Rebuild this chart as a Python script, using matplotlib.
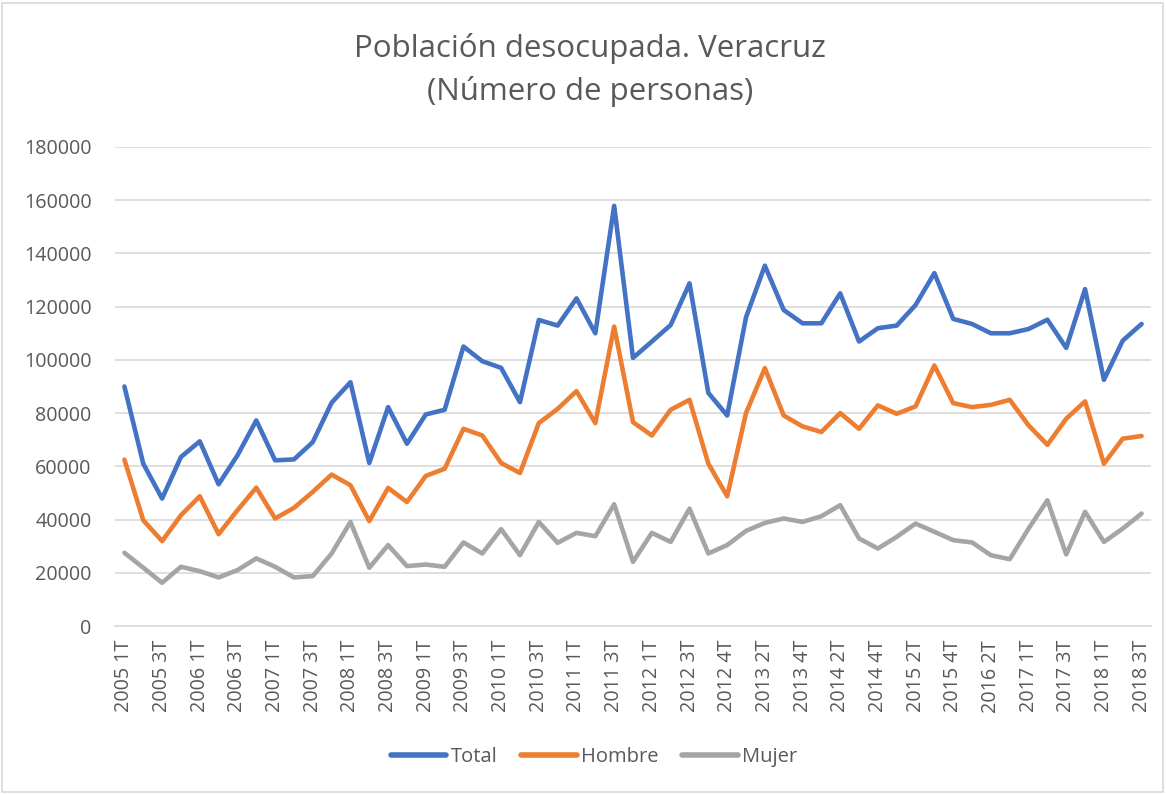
import matplotlib
matplotlib.use("Agg")
import matplotlib.pyplot as plt
from matplotlib.patches import Rectangle

periods = [
    "2005 1T", "2005 2T", "2005 3T", "2005 4T",
    "2006 1T", "2006 2T", "2006 3T", "2006 4T",
    "2007 1T", "2007 2T", "2007 3T", "2007 4T",
    "2008 1T", "2008 2T", "2008 3T", "2008 4T",
    "2009 1T", "2009 2T", "2009 3T", "2009 4T",
    "2010 1T", "2010 2T", "2010 3T", "2010 4T",
    "2011 1T", "2011 2T", "2011 3T", "2011 4T",
    "2012 1T", "2012 2T", "2012 3T", "2012 3T ", "2012 4T",
    "2013 1T", "2013 2T", "2013 3T", "2013 4T",
    "2014 1T", "2014 2T", "2014 3T", "2014 4T",
    "2015 1T", "2015 2T", "2015 3T", "2015 4T",
    "2016 1T", "2016 2T", "2016 3T",
    "2017 1T", "2017 2T", "2017 3T", "2017 4T",
    "2018 1T", "2018 2T", "2018 3T",
]

total = [90000, 61000, 47900, 63500, 69400, 53250, 64100, 77250, 62250, 62600,
         69100, 83900, 91600, 61250, 82250, 68500, 79500, 81250, 105000, 99500,
         97000, 84100, 115000, 112900, 123100, 110000, 157900, 100750, 106900, 113100,
         128750, 87600, 79100, 116000, 135400, 118750, 113750, 113750, 125000, 106900,
         111900, 112900, 120600, 132600, 115400, 113500, 110000, 110000, 111600, 115100,
         104500, 126600, 92500, 107250, 113500]

hombre = [62500, 39750, 31900, 41600, 48750, 34500, 43500, 52000, 40400, 44400,
          50400, 56900, 52900, 39400, 51900, 46600, 56400, 59100, 74100, 71600,
          61250, 57500, 76250, 81600, 88250, 76250, 112500, 76600, 71600, 81250,
          85000, 61000, 48750, 80000, 96900, 79100, 75000, 72900, 80000, 74100,
          82900, 79750, 82500, 97900, 83750, 82250, 83100, 85000, 75400, 68100,
          77900, 84400, 61000, 70400, 71400]

mujer = [27500, 21900, 16250, 22250, 20600, 18250, 21000, 25400, 22250, 18250,
         18750, 27250, 39100, 21900, 30400, 22500, 23100, 22250, 31400, 27250,
         36400, 26600, 39100, 31250, 35000, 33750, 45750, 24100, 35000, 31600,
         44100, 27250, 30400, 35750, 38750, 40400, 39100, 41250, 45400, 32900,
         29100, 33500, 38500, 35400, 32250, 31400, 26600, 25100, 36600, 47250,
         26900, 42900, 31600, 36600, 42250]

series_names = ["Total", "Hombre", "Mujer"]
colors = ["#4472C4", "#ED7D31", "#A5A5A5"]
yticks = list(range(0, 180001, 20000))

plt.rcParams['font.family'] = ['Open Sans', 'DejaVu Sans']
txt = "#595959"

W, H = 1166, 794
fig = plt.figure(figsize=(W / 100, H / 100), dpi=100)
fig.patch.set_facecolor("white")
fig.patches.append(Rectangle((2 / W, 2 / H), 1 - 5 / W, 1 - 5 / H, transform=fig.transFigure,
                             fill=False, edgecolor="#D9D9D9", linewidth=1.2))

left, right, top, bottom = 115, 1151, 147, 626
ax = fig.add_axes([left / W, 1 - bottom / H, (right - left) / W, (bottom - top) / H])

x = list(range(len(periods)))
for vals, name, c in zip([total, hombre, mujer], series_names, colors):
    ax.plot(x, vals, color=c, linewidth=3.3, label=name, solid_joinstyle="round",
            solid_capstyle="round", zorder=3)

ax.set_xlim(-0.5, len(periods) - 0.5)
ax.set_ylim(0, 180000)
ax.set_yticks(yticks)
ax.set_yticklabels([str(v) for v in yticks], color=txt, fontsize=14.2)
ax.grid(axis="y", color="#D9D9D9", linewidth=1.2)
ax.set_axisbelow(True)
for s in ["top", "right", "left"]:
    ax.spines[s].set_visible(False)
ax.spines["bottom"].set_color("#D9D9D9")
ax.spines["bottom"].set_linewidth(1.2)
ax.tick_params(axis="y", length=0, pad=17)
ax.set_xticks(x[::2])
ax.set_xticklabels([periods[i].strip() for i in x[::2]], rotation=90, color=txt, fontsize=14.2)
ax.tick_params(axis="x", length=0, pad=10)

fig.text(590 / W, 1 - 57 / H, "Población desocupada. Veracruz", ha="center", va="baseline",
         fontsize=22.5, color=txt)
fig.text(590 / W, 1 - 100 / H, "(Número de personas)", ha="center", va="baseline",
         fontsize=22.5, color=txt)

leg = fig.legend(loc="center", bbox_to_anchor=(594 / W, 1 - 757 / H), ncol=3, frameon=False,
                 fontsize=14.5, handlelength=2.75, columnspacing=1.2, handletextpad=0.2)
for t in leg.get_texts():
    t.set_color(txt)
for h in leg.legend_handles:
    h.set_linewidth(4.0)

fig.savefig("out.png", dpi=100)
